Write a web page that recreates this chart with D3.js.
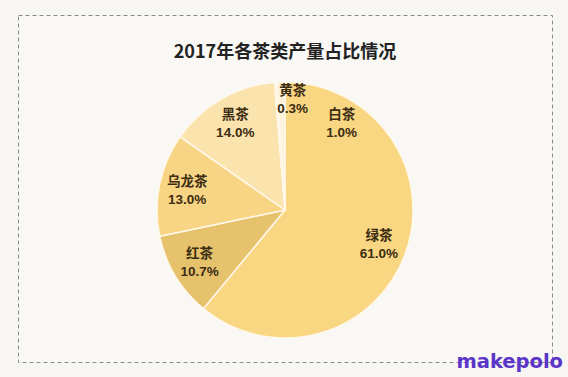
<!DOCTYPE html>
<html>
<head>
<meta charset="utf-8">
<script src="https://cdn.jsdelivr.net/npm/d3@7"></script>
<style>
  html, body { margin: 0; padding: 0; background: #f7f6f2; }
  svg { display: block; font-family: "Noto Sans CJK SC", "Noto Sans", sans-serif; }
</style>
</head>
<body>
<div id="teaPie"></div>
<script>
// share of production per tea type, clockwise from 12 o'clock
const categories = ["绿茶", "红茶", "乌龙茶", "黑茶", "黄茶", "白茶"];
const shares = [61.0, 10.7, 13.0, 14.0, 0.3, 1.0];
const sliceColors = ["#f9d682", "#e6c26d", "#f8d584", "#fbe3ae", "#fdf2dc", "#fdf2dc"];
const title = "2017年各茶类产量占比情况";

const width = 568, height = 377;
const cx = 285, cy = 210, radius = 128;

const svg = d3.select("#teaPie")
    .append("svg")
    .attr("width", width)
    .attr("height", height);

// dashed frame
svg.append("rect")
    .attr("x", 18.5).attr("y", 15.5)
    .attr("width", 534).attr("height", 347)
    .attr("fill", "#f9f8f5")
    .attr("stroke", "#8a8a8a")
    .attr("stroke-width", 1)
    .attr("stroke-dasharray", "4,3");

svg.append("text")
    .attr("x", cx).attr("y", 58)
    .attr("text-anchor", "middle")
    .attr("font-size", 18)
    .attr("font-weight", "bold")
    .attr("fill", "#222")
    .text(title);

const data = categories.map((c, i) => ({ name: c, value: shares[i], color: sliceColors[i] }));

const pie = d3.pie().value(d => d.value).sort(null);
const arc = d3.arc().innerRadius(0).outerRadius(radius);
const arcs = pie(data);

const g = svg.append("g").attr("transform", `translate(${cx}, ${cy})`);

g.selectAll("path")
    .data(arcs)
    .enter()
    .append("path")
    .attr("d", arc)
    .attr("fill", d => d.data.color)
    .attr("stroke", "#fff8ea")
    .attr("stroke-width", 1.5);

// label positions: centroid for the big slices, tiny ones get pushed clockwise past 12 o'clock
let tinyIndex = 0;
function labelPos(d) {
    let angle = (d.startAngle + d.endAngle) / 2;
    let r = radius * 0.78;
    if (d.data.value < 2) {
        angle = (4 + tinyIndex * 29) * Math.PI / 180;
        r = tinyIndex === 0 ? 111 : 104;
        tinyIndex++;
    }
    return [Math.sin(angle) * r, -Math.cos(angle) * r];
}

const labels = g.selectAll("g.lbl")
    .data(arcs)
    .enter()
    .append("g")
    .attr("class", "lbl")
    .attr("transform", d => `translate(${labelPos(d)})`);

labels.append("text")
    .attr("y", -4)
    .attr("text-anchor", "middle")
    .attr("font-size", 13.5)
    .attr("font-weight", "bold")
    .attr("fill", "#3b2c12")
    .text(d => d.data.name);

labels.append("text")
    .attr("y", 14)
    .attr("text-anchor", "middle")
    .attr("font-family", "'Liberation Sans', Arial, sans-serif")
    .attr("font-size", 13.5)
    .attr("font-weight", "bold")
    .attr("fill", "#3b2c12")
    .text(d => d.data.value.toFixed(1) + "%");

// watermark
svg.append("text")
    .attr("x", 563).attr("y", 368)
    .attr("text-anchor", "end")
    .attr("font-family", "'DejaVu Sans', sans-serif")
    .attr("font-size", 19.5)
    .attr("font-weight", "bold")
    .attr("fill", "#5a35c8")
    .text("makepolo");
</script>
</body>
</html>
